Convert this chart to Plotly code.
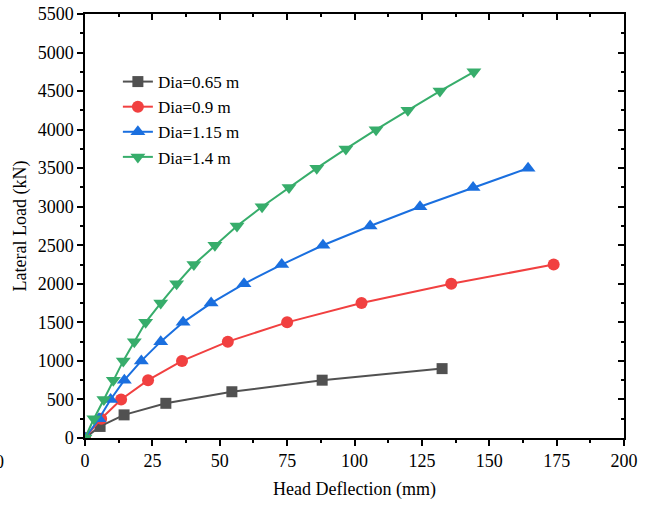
import plotly.graph_objects as go

# Data (Head Deflection in mm, Lateral Load in kN)
x_065 = [0, 5.6, 14.5, 30.0, 54.5, 88.0, 132.5]
y_065 = [0, 150, 300, 450, 600, 750, 900]

x_090 = [0, 6.0, 13.4, 23.4, 36.0, 53.0, 75.0, 102.6, 135.9, 173.9]
y_090 = [0, 250, 500, 750, 1000, 1250, 1500, 1750, 2000, 2250]

x_115 = [0, 5.2, 9.5, 14.6, 20.9, 28.1, 36.4, 46.8, 59.0, 73.0, 88.3, 105.8, 124.3, 144.0, 164.4]
y_115 = [0, 250, 500, 750, 1000, 1250, 1500, 1750, 2000, 2250, 2500, 2750, 3000, 3250, 3500]

x_140 = [0, 3.3, 7.0, 10.5, 14.2, 18.3, 22.5, 28.1, 34.0, 40.4, 48.2, 56.4, 65.7, 75.7,
         86.0, 96.8, 108.0, 119.8, 131.7, 144.3]
y_140 = [0, 250, 500, 750, 1000, 1250, 1500, 1750, 2000, 2250, 2500, 2750, 3000, 3250,
         3500, 3750, 4000, 4250, 4500, 4750]

names = ["Dia=0.65 m", "Dia=0.9 m", "Dia=1.15 m", "Dia=1.4 m"]
colors = ["#515151", "#F14040", "#1A6FDF", "#37AD6B"]
symbols = ["square", "circle", "triangle-up", "triangle-down"]
sizes = [11, 12, 13, 13]

FONT = "Liberation Serif, Times New Roman, serif"
FS = 18

fig = go.Figure()
for xs, ys, nm, c, s, sz in zip([x_065, x_090, x_115, x_140], [y_065, y_090, y_115, y_140],
                                 names, colors, symbols, sizes):
    fig.add_trace(go.Scatter(x=xs, y=ys, name=nm, mode="lines+markers",
                             line=dict(color=c, width=2),
                             marker=dict(symbol=s, size=sz, color=c)))

# invisible trace for mirror axes
fig.add_trace(go.Scatter(x=[0], y=[0], xaxis="x2", yaxis="y2", mode="markers",
                         marker=dict(opacity=0), showlegend=False, hoverinfo="skip"))

axis_common = dict(showline=True, linecolor="black", linewidth=1.5, showgrid=False,
                   zeroline=False, tickcolor="black", tickwidth=1.5, automargin=False,
                   tickfont=dict(family=FONT, size=FS, color="black"))

fig.update_layout(
    width=646, height=508,
    margin=dict(l=85, r=22, t=14, b=70),
    plot_bgcolor="white", paper_bgcolor="white",
    font=dict(family=FONT, size=FS, color="black"),
    xaxis=dict(range=[0, 200], dtick=25, tick0=0, ticks="outside", ticklen=6,
               minor=dict(ticks="outside", dtick=12.5, ticklen=3, tickcolor="black", tickwidth=1.5),
               title=dict(text="Head Deflection (mm)", font=dict(family=FONT, size=FS), standoff=12),
               **axis_common),
    yaxis=dict(range=[0, 5500], dtick=500, tick0=0, ticks="outside", ticklen=6,
               minor=dict(ticks="outside", dtick=250, ticklen=3, tickcolor="black", tickwidth=1.5),
               title=dict(text="Lateral Load (kN)", font=dict(family=FONT, size=FS), standoff=6),
               **axis_common),
    xaxis2=dict(range=[0, 200], dtick=25, tick0=0, ticks="inside", ticklen=6,
                overlaying="x", side="top", showticklabels=False, anchor="y",
                minor=dict(ticks="inside", dtick=12.5, ticklen=3, tickcolor="black", tickwidth=1.5),
                **axis_common),
    yaxis2=dict(range=[0, 5500], dtick=500, tick0=0, ticks="inside", ticklen=6,
                overlaying="y", side="right", showticklabels=False, anchor="x",
                minor=dict(ticks="inside", dtick=250, ticklen=3, tickcolor="black", tickwidth=1.5),
                **axis_common),
    legend=dict(x=0.061, y=0.882, xanchor="left", yanchor="top", bgcolor="rgba(0,0,0,0)",
                font=dict(family=FONT, size=17), tracegroupgap=0, itemsizing="trace"),
    showlegend=True,
)

fig.add_annotation(text="0", xref="paper", yref="paper", x=(6 - 85) / 539, y=-0.057,
                   xanchor="right", yanchor="middle", showarrow=False,
                   font=dict(family=FONT, size=FS, color="black"))

fig.write_html("out.html", config={"displayModeBar": False},
               post_script="document.body.style.margin='0px';")
